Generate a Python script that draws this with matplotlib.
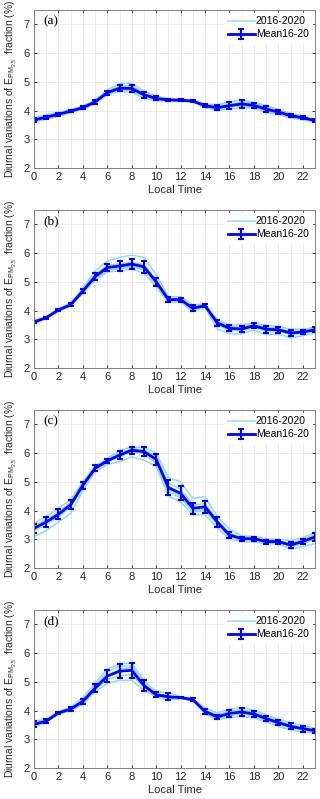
import numpy as np
import matplotlib
matplotlib.use("Agg")
import matplotlib.pyplot as plt

# ------------------------------------------------
# Data
# ------------------------------------------------
hours = np.arange(24)
panel_labels = ["(a)", "(b)", "(c)", "(d)"]

# panel (a)
mean_a = [3.67, 3.77, 3.87, 3.98, 4.10, 4.30, 4.62, 4.78, 4.77, 4.55, 4.42, 4.37,
          4.36, 4.33, 4.17, 4.10, 4.17, 4.23, 4.18, 4.05, 3.95, 3.82, 3.75, 3.65]
err_a = [0.07, 0.05, 0.05, 0.04, 0.05, 0.06, 0.07, 0.10, 0.13, 0.10, 0.07, 0.03,
         0.04, 0.03, 0.05, 0.08, 0.12, 0.13, 0.08, 0.10, 0.06, 0.06, 0.06, 0.04]
years_a = [
    [3.75, 3.85, 3.94, 4.03, 4.16, 4.36, 4.72, 4.93, 4.95, 4.67, 4.50, 4.41,
     4.40, 4.36, 4.23, 4.20, 4.30, 4.38, 4.28, 4.18, 4.03, 3.90, 3.82, 3.70],
    [3.60, 3.70, 3.80, 3.93, 4.04, 4.24, 4.55, 4.66, 4.63, 4.43, 4.34, 4.33,
     4.32, 4.30, 4.11, 4.00, 4.05, 4.10, 4.08, 3.93, 3.87, 3.74, 3.68, 3.60],
    [3.70, 3.80, 3.90, 4.00, 4.12, 4.33, 4.66, 4.85, 4.86, 4.60, 4.45, 4.39,
     4.38, 4.34, 4.19, 4.14, 4.22, 4.30, 4.24, 4.12, 3.99, 3.86, 3.79, 3.67],
    [3.64, 3.74, 3.85, 3.96, 4.08, 4.27, 4.58, 4.72, 4.70, 4.50, 4.38, 4.35,
     4.34, 4.32, 4.15, 4.06, 4.12, 4.16, 4.12, 3.98, 3.91, 3.78, 3.71, 3.63],
    [3.66, 3.76, 3.86, 3.98, 4.10, 4.30, 4.60, 4.74, 4.71, 4.55, 4.43, 4.37,
     4.36, 4.33, 4.17, 4.10, 4.16, 4.21, 4.18, 4.04, 3.95, 3.82, 3.75, 3.65],
]

# panel (b)
mean_b = [3.60, 3.75, 4.02, 4.20, 4.68, 5.18, 5.50, 5.55, 5.62, 5.52, 5.00, 4.38,
          4.38, 4.08, 4.17, 3.57, 3.38, 3.36, 3.47, 3.35, 3.33, 3.22, 3.25, 3.33]
err_b = [0.05, 0.03, 0.05, 0.05, 0.07, 0.12, 0.12, 0.18, 0.18, 0.20, 0.15, 0.08,
         0.07, 0.10, 0.05, 0.10, 0.10, 0.10, 0.08, 0.12, 0.10, 0.10, 0.08, 0.08]
years_b = [
    [3.66, 3.78, 4.07, 4.26, 4.78, 5.38, 5.72, 5.85, 5.93, 5.85, 5.25, 4.48,
     4.48, 4.20, 4.22, 3.68, 3.50, 3.50, 3.58, 3.48, 3.45, 3.35, 3.35, 3.42],
    [3.55, 3.72, 3.97, 4.15, 4.60, 5.05, 5.35, 5.38, 5.45, 5.30, 4.82, 4.30,
     4.30, 3.98, 4.12, 3.35, 3.20, 3.18, 3.32, 3.15, 3.18, 3.05, 3.12, 3.22],
    [3.62, 3.76, 4.04, 4.22, 4.72, 5.25, 5.58, 5.62, 5.68, 5.60, 5.08, 4.42,
     4.40, 4.12, 4.18, 3.62, 3.45, 3.42, 3.52, 3.42, 3.38, 3.28, 3.30, 3.38],
    [3.58, 3.74, 4.00, 4.18, 4.65, 5.12, 5.42, 5.45, 5.52, 5.42, 4.92, 4.34,
     4.36, 4.02, 4.16, 3.52, 3.30, 3.30, 3.42, 3.28, 3.28, 3.16, 3.22, 3.30],
    [3.60, 3.75, 4.02, 4.20, 4.66, 5.12, 5.45, 5.48, 5.55, 5.45, 4.95, 4.36,
     4.36, 4.08, 4.17, 3.55, 3.40, 3.35, 3.48, 3.38, 3.32, 3.22, 3.26, 3.32],
]

# panel (c)
mean_c = [3.38, 3.60, 3.87, 4.20, 4.88, 5.47, 5.73, 5.93, 6.10, 6.05, 5.78, 4.80,
          4.60, 4.08, 4.13, 3.60, 3.15, 3.02, 3.02, 2.92, 2.92, 2.80, 2.92, 3.08]
err_c = [0.15, 0.17, 0.18, 0.15, 0.13, 0.10, 0.08, 0.15, 0.12, 0.15, 0.20, 0.25,
         0.25, 0.20, 0.20, 0.18, 0.12, 0.07, 0.07, 0.07, 0.07, 0.10, 0.10, 0.15]
years_c = [
    [3.55, 3.80, 4.08, 4.38, 5.00, 5.55, 5.82, 6.10, 6.20, 6.20, 6.00, 5.15,
     5.00, 4.42, 4.48, 3.80, 3.35, 3.12, 3.10, 3.02, 3.00, 2.95, 3.05, 3.25],
    [3.10, 3.30, 3.60, 3.90, 4.70, 5.35, 5.60, 5.70, 5.87, 5.75, 5.55, 4.50,
     4.30, 3.85, 3.85, 3.40, 3.00, 2.92, 2.90, 2.85, 2.85, 2.65, 2.75, 2.85],
    [3.45, 3.68, 3.95, 4.28, 4.95, 5.52, 5.78, 6.00, 6.15, 6.12, 5.88, 4.95,
     4.75, 4.18, 4.25, 3.68, 3.22, 3.05, 3.05, 2.95, 2.95, 2.85, 2.98, 3.18],
    [3.30, 3.52, 3.78, 4.12, 4.82, 5.42, 5.68, 5.88, 6.05, 5.98, 5.65, 4.65,
     4.45, 3.95, 4.00, 3.52, 3.10, 2.98, 2.98, 2.88, 2.88, 2.75, 2.85, 3.00],
    [3.40, 3.62, 3.90, 4.22, 4.90, 5.50, 5.75, 5.95, 6.12, 6.08, 5.82, 4.75,
     4.50, 4.00, 4.05, 3.60, 3.08, 3.02, 3.05, 2.90, 2.92, 2.80, 2.95, 3.12],
]

# panel (d)
mean_d = [3.52, 3.63, 3.92, 4.05, 4.32, 4.78, 5.20, 5.37, 5.40, 4.87, 4.55, 4.48,
          4.45, 4.38, 3.97, 3.78, 3.90, 3.95, 3.88, 3.72, 3.58, 3.45, 3.37, 3.30]
err_d = [0.10, 0.06, 0.04, 0.06, 0.08, 0.13, 0.20, 0.25, 0.27, 0.20, 0.08, 0.12,
         0.03, 0.05, 0.08, 0.08, 0.13, 0.13, 0.12, 0.10, 0.10, 0.10, 0.10, 0.07]
years_d = [
    [3.62, 3.70, 3.96, 4.12, 4.45, 4.95, 5.45, 5.62, 5.65, 5.05, 4.65, 4.62,
     4.48, 4.42, 4.08, 3.92, 4.05, 4.10, 4.02, 3.85, 3.70, 3.58, 3.48, 3.38],
    [3.42, 3.58, 3.88, 3.98, 4.22, 4.65, 4.95, 5.05, 5.05, 4.70, 4.48, 4.35,
     4.42, 4.33, 3.88, 3.68, 3.75, 3.80, 3.75, 3.60, 3.45, 3.32, 3.25, 3.22],
    [3.55, 3.66, 3.94, 4.08, 4.38, 4.85, 5.35, 5.55, 5.55, 4.95, 4.58, 4.52,
     4.46, 4.40, 4.02, 3.85, 3.98, 4.02, 3.95, 3.78, 3.64, 3.50, 3.42, 3.34],
    [3.48, 3.60, 3.90, 4.02, 4.28, 4.72, 5.08, 5.20, 5.25, 4.80, 4.52, 4.42,
     4.44, 4.36, 3.92, 3.72, 3.82, 3.88, 3.82, 3.66, 3.52, 3.40, 3.32, 3.27],
    [3.53, 3.63, 3.92, 4.05, 4.30, 4.75, 5.18, 5.45, 5.50, 4.85, 4.52, 4.50,
     4.45, 4.38, 3.96, 3.75, 3.90, 3.95, 3.86, 3.70, 3.58, 3.44, 3.36, 3.30],
]

panels = [(years_a, mean_a, err_a), (years_b, mean_b, err_b),
          (years_c, mean_c, err_c), (years_d, mean_d, err_d)]

# ------------------------------------------------
# Plot
# ------------------------------------------------
plt.rcParams["font.family"] = ["Liberation Sans", "DejaVu Sans"]
plt.rcParams["mathtext.fontset"] = "custom"
plt.rcParams["mathtext.rm"] = "Liberation Sans"
plt.rcParams["mathtext.it"] = "Liberation Sans"
plt.rcParams["mathtext.default"] = "regular"

W, H = 320, 799
fig = plt.figure(figsize=(W / 100, H / 100), dpi=100)

light = "#8fdaf8"
dark = "#0000ff"
ink = "#262626"

for i, (years, mean, err) in enumerate(panels):
    top = 10 + 200 * i
    bot = 168 + 200 * i
    ax = fig.add_axes([34 / W, 1 - bot / H, 281 / W, (bot - top) / H])

    for k, y in enumerate(years):
        ax.plot(hours, y, color=light, lw=1.1,
                label="2016-2020" if k == 0 else None)
    ax.errorbar(hours, mean, yerr=err, color=dark, lw=2.0, elinewidth=1.5,
                capsize=2.4, capthick=1.5, label="Mean16-20")

    ax.set_xlim(0, 23)
    ax.set_ylim(2, 7.5)
    ax.set_xticks(np.arange(0, 23, 2))
    ax.set_xticks(np.arange(0, 24, 1), minor=True)
    ax.set_yticks(np.arange(2, 8, 1))
    ax.grid(True, which="both", axis="x", color="#e6e6e6", lw=0.6)
    ax.grid(True, which="major", axis="y", color="#e6e6e6", lw=0.6)
    ax.set_axisbelow(True)
    ax.tick_params(which="major", direction="in", length=2.5, width=0.6,
                   top=True, right=True, labelsize=8, colors=ink, pad=3)
    ax.tick_params(which="minor", length=0)
    for s in ax.spines.values():
        s.set_color("#7f7f7f")
        s.set_linewidth(0.7)

    ax.set_xlabel("Local Time", fontsize=8, color=ink, labelpad=2)
    ax.set_ylabel(r"Diurnal variations of E$_{PM_{2.5}}$  fraction (%)",
                  fontsize=7.4, color=ink, labelpad=3)
    ax.text(0.035, 0.93, panel_labels[i], transform=ax.transAxes,
            fontsize=9.5, family="Liberation Serif", va="center")

    leg = ax.legend(loc="upper right", fontsize=7.5, frameon=True,
                    handlelength=2.6, borderpad=0.3, labelspacing=0.3,
                    handletextpad=0.1, borderaxespad=0.3)
    leg.get_frame().set_edgecolor("white")
    leg.get_frame().set_alpha(1.0)

fig.savefig("out.png", dpi=100)
